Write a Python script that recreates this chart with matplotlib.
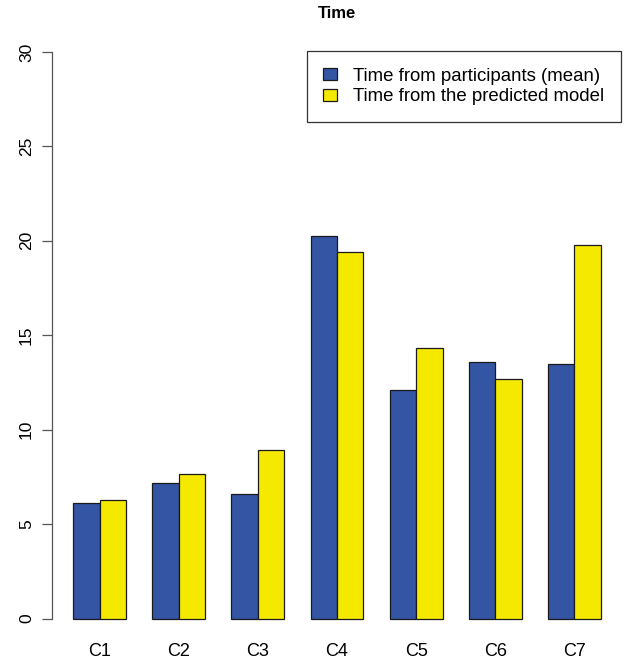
import numpy as np
import matplotlib.pyplot as plt

plt.rcParams['font.family'] = ['Liberation Sans', 'DejaVu Sans']

# --- data ---
categories = ['C1', 'C2', 'C3', 'C4', 'C5', 'C6', 'C7']
participants_mean = [6.10, 7.16, 6.59, 20.27, 12.10, 13.60, 13.48]
predicted_model = [6.28, 7.65, 8.90, 19.39, 14.31, 12.70, 19.76]
series_labels = ['Time from participants (mean)', 'Time from the predicted model']
y_ticks = [0, 5, 10, 15, 20, 25, 30]

blue = '#3454A4'
yellow = '#F5E900'
W, H = 632, 660

fig = plt.figure(figsize=(W / 100, H / 100), dpi=100)
ax = fig.add_axes([52 / W, 18.8 / H, 570 / W, 611.9 / H])

# R-style beside barplot: each group = 2 bars of width 1, 1 unit gap before group
group_left = 1 + 3 * np.arange(len(categories))
ax.bar(group_left, participants_mean, width=1, align='edge',
       color=blue, edgecolor='#1a1a1a', linewidth=0.9, label=series_labels[0])
ax.bar(group_left + 1, predicted_model, width=1, align='edge',
       color=yellow, edgecolor='#1a1a1a', linewidth=0.9, label=series_labels[1])

ax.set_xlim(0.2, 21.8)
ax.set_ylim(-1.2, 31.2)

ax.set_xticks(group_left + 1)
ax.set_xticklabels(categories, fontsize=13)
ax.tick_params(axis='x', length=0, pad=1)

ax.set_yticks(y_ticks)
ax.set_yticklabels([str(t) for t in y_ticks], fontsize=12.5, rotation=90, va='center')
ax.tick_params(axis='y', length=7, width=0.9, color='#555555', pad=6)

for side in ['top', 'right', 'bottom']:
    ax.spines[side].set_visible(False)
ax.spines['left'].set_bounds(0, 30)
ax.spines['left'].set_color('#555555')
ax.spines['left'].set_linewidth(0.9)

fig.text(337 / W, 1 - 14 / H, 'Time', fontsize=12, fontweight='bold',
         ha='center', va='center')

leg = ax.legend(loc='upper right', bbox_to_anchor=(621 / W, 1 - 51 / H),
                bbox_transform=fig.transFigure,
                fontsize=13.4, frameon=True, fancybox=False, edgecolor='black',
                handlelength=0.75, handleheight=0.65, handletextpad=0.85,
                borderpad=0.9, labelspacing=0.2, borderaxespad=0)
leg.get_frame().set_linewidth(0.9)

fig.savefig('out.png', dpi=100)
